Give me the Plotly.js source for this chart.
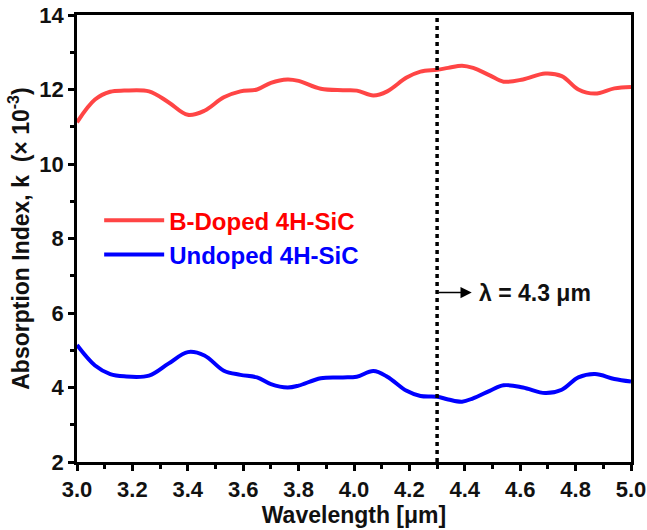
<!DOCTYPE html>
<html><head><meta charset="utf-8">
<script src="https://cdn.plot.ly/plotly-3.0.1.min.js"></script>
<style>body{margin:0;background:#fff}#plot{width:647px;height:530px}</style>
</head><body><div id="plot"></div>
<script>
const wavelength = [3.0,3.065,3.12,3.17,3.26,3.33,3.40,3.46,3.53,3.59,3.65,3.70,3.76,3.80,3.88,3.96,4.01,4.07,4.12,4.19,4.24,4.30,4.34,4.39,4.43,4.49,4.54,4.61,4.69,4.75,4.81,4.87,4.94,5.0];
const bDoped = [11.12,11.73,11.94,11.97,11.95,11.66,11.32,11.43,11.79,11.95,12.0,12.18,12.27,12.23,12.02,11.98,11.97,11.84,11.95,12.32,12.48,12.53,12.58,12.64,12.58,12.38,12.21,12.27,12.43,12.36,12.0,11.89,12.03,12.07];
const undoped = [5.14,4.59,4.36,4.30,4.32,4.64,4.95,4.86,4.45,4.34,4.27,4.09,4.0,4.05,4.25,4.27,4.29,4.44,4.29,3.91,3.77,3.75,3.68,3.62,3.71,3.91,4.06,4.0,3.85,3.94,4.27,4.36,4.23,4.16];
const seriesNames = ['B-Doped 4H-SiC','Undoped 4H-SiC'];
const markerX = 4.3;
const markerLabelY = 6.55;

const F = 'Liberation Sans, Arial, sans-serif';
const traces = [
  {x: wavelength, y: bDoped, mode:'lines', name:'<span style="color:#ff0000">'+seriesNames[0]+'</span>',
   line:{color:'#ff4545', width:4, shape:'spline', smoothing:1}},
  {x: wavelength, y: undoped, mode:'lines', name:'<span style="color:#0000ff">'+seriesNames[1]+'</span>',
   line:{color:'#0000ff', width:4, shape:'spline', smoothing:1}}
];
const axisCommon = {showline:true, mirror:true, linecolor:'#000', linewidth:2.5, ticks:'outside',
  ticklen:6, tickwidth:2.5, tickcolor:'#000', showgrid:false, zeroline:false,
  tickfont:{family:F, size:22, color:'#111', weight:'bold'}};
const layout = {
  width:647, height:530, margin:{l:77, r:16, t:15, b:68},
  paper_bgcolor:'#fff', plot_bgcolor:'#fff',
  font:{family:F, weight:'bold'},
  xaxis: Object.assign({}, axisCommon, {range:[3.0,5.0], dtick:0.2, tickformat:'.1f',
    minor:{dtick:0.1, ticks:'outside', ticklen:4, tickwidth:2.5, tickcolor:'#000'},
    title:{text:'<b>Wavelength [μm]</b>', font:{family:F, size:23, color:'#111'}, standoff:2}}),
  yaxis: Object.assign({}, axisCommon, {range:[2,14], dtick:2,
    minor:{dtick:1, ticks:'outside', ticklen:4, tickwidth:2.5, tickcolor:'#000'},
    title:{text:'<b>Absorption Index, k  (× 10<sup>-3</sup>)</b>', font:{family:F, size:23, color:'#111'}, standoff:4}}),
  showlegend:true,
  legend:{x:0.04, y:0.59, xanchor:'left', yanchor:'top', bgcolor:'rgba(0,0,0,0)',
    font:{family:F, size:24, weight:'bold'}, itemwidth:60, tracegroupgap:0},
  shapes:[{type:'line', xref:'x', yref:'paper', x0:markerX, x1:markerX, y0:0, y1:1,
    line:{color:'#000', width:3.5, dash:'4px,4px'}}],
  annotations:[
    {x:4.425, y:markerLabelY, xref:'x', yref:'y', ax:markerX, ay:markerLabelY, axref:'x', ayref:'y', text:'',
     showarrow:true, arrowhead:2, arrowsize:1.5, arrowwidth:1.5, arrowcolor:'#000'},
    {x:4.443, y:markerLabelY, xref:'x', yref:'y', text:'<b>λ = 4.3 μm</b>', showarrow:false,
     xanchor:'left', yanchor:'middle', font:{family:F, size:23, color:'#111'}}
  ]
};
Plotly.newPlot('plot', traces, layout, {displayModeBar:false});
</script></body></html>
